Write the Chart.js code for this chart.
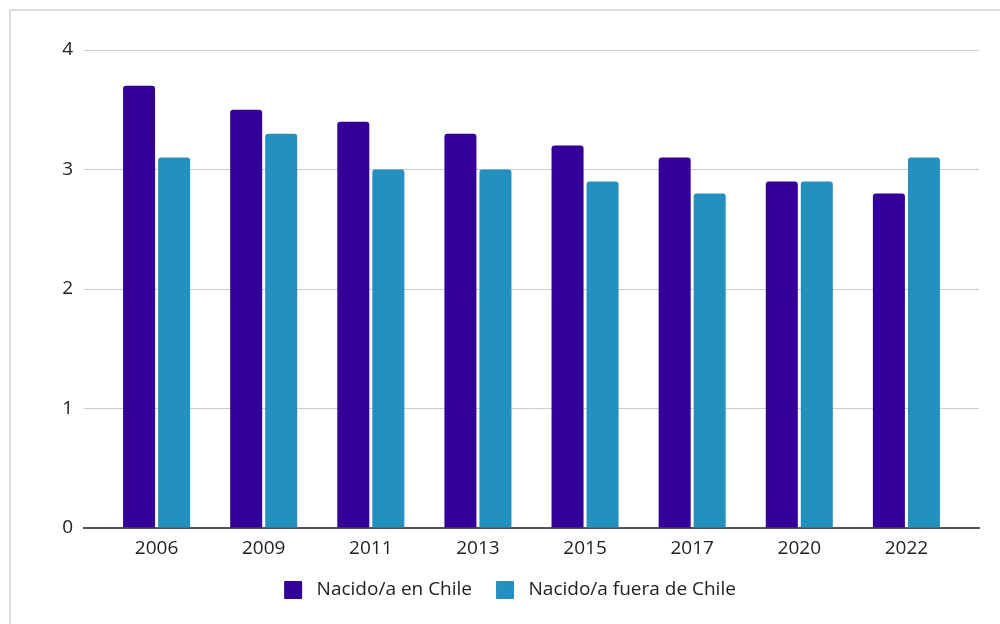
<!DOCTYPE html>
<html>
<head>
<meta charset="utf-8">
<script src="https://cdn.jsdelivr.net/npm/chart.js@4"></script>
<style>
  html, body { margin: 0; padding: 0; background: #fff; overflow: hidden; }
  #frame { position: absolute; left: 9px; top: 9px; width: 1000px; height: 700px; border: 2px solid #ddd; box-sizing: border-box; }
  #wrap { position: absolute; left: 0; top: 0; width: 1000px; height: 624px; }
</style>
</head>
<body>
<div id="frame"></div>
<div id="wrap"><canvas id="chart"></canvas></div>
<script>
const years = ['2006', '2009', '2011', '2013', '2015', '2017', '2020', '2022'];
const bornInChile = [3.7, 3.5, 3.4, 3.3, 3.2, 3.1, 2.9, 2.8];
const bornAbroad = [3.1, 3.3, 3.0, 3.0, 2.9, 2.8, 2.9, 3.1];
const yTicks = [0, 1, 2, 3, 4];

const ctx = document.getElementById("chart").getContext("2d");
const font = { family: "'Open Sans', 'Noto Sans', sans-serif", size: 19 };

// bars sit on a linear x so the grid can run a bit past the outer groups
const toPoints = arr => arr.map((v, i) => ({ x: i, y: v }));
const edge = 0.5 + 19 / 107;

const chart = new Chart(ctx, {
    type: 'bar',
    data: {
        datasets: [{
            label: 'Nacido/a en Chile',
            data: toPoints(bornInChile),
            backgroundColor: '#330099',
            borderRadius: { topLeft: 3, topRight: 3 },
            borderSkipped: 'bottom'
        }, {
            label: 'Nacido/a fuera de Chile',
            data: toPoints(bornAbroad),
            backgroundColor: '#2390bf',
            borderRadius: { topLeft: 3, topRight: 3 },
            borderSkipped: 'bottom'
        }]
    },
    options: {
        responsive: true,
        maintainAspectRatio: false,
        animation: false,
        categoryPercentage: 0.654,
        barPercentage: 0.914,
        layout: { padding: { top: 50, right: 21, left: 36, bottom: 10 } },
        scales: {
            x: {
                type: 'linear',
                offset: false,
                min: -edge,
                max: years.length - 1 + edge,
                afterBuildTicks: s => { s.ticks = years.map((y, i) => ({ value: i })); },
                grid: { display: false, drawTicks: false },
                border: { color: '#555', width: 2 },
                ticks: {
                    color: '#222',
                    font: font,
                    padding: 9,
                    autoSkip: false,
                    maxRotation: 0,
                    callback: v => years[v]
                },
                afterFit: s => { s.height = 29; }
            },
            y: {
                min: 0,
                max: 4,
                afterBuildTicks: s => { s.ticks = yTicks.map(v => ({ value: v })); },
                grid: { color: '#ccc', drawTicks: false },
                border: { display: false },
                ticks: { color: '#222', font: font, padding: 11 },
                afterFit: s => { s.width = 48; }
            }
        },
        plugins: {
            legend: {
                position: 'bottom',
                labels: {
                    color: '#222',
                    font: font,
                    boxWidth: 28,
                    boxHeight: 28,
                    padding: 19,
                    useBorderRadius: true,
                    borderRadius: 6,
                    // white outline trims the swatch to 18px and widens the gap before the text
                    generateLabels: c => Chart.defaults.plugins.legend.labels.generateLabels(c)
                        .map(l => ({ ...l, lineWidth: 10, strokeStyle: '#fff' }))
                }
            },
            tooltip: { enabled: false }
        }
    }
});
</script>
</body>
</html>
